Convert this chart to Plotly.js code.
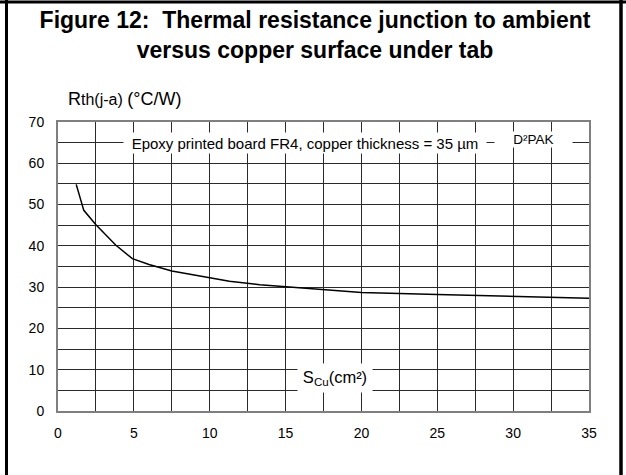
<!DOCTYPE html>
<html>
<head>
<meta charset="utf-8">
<script src="https://cdn.plot.ly/plotly-3.0.1.min.js"></script>
<style>
  html, body { margin: 0; padding: 0; background: #fff; }
  #chart { width: 626px; height: 475px; }
</style>
</head>
<body>
<div id="chart"></div>
<script>
// ---- data ----
const copperArea = [1.2, 1.7, 2.5, 3.8, 4.9, 6.0, 7.5, 9.8, 11.3, 13.3, 15.0, 17.5, 20.0, 25.0, 30.0, 35.0];
const rthJA      = [54.9, 48.6, 45.1, 40.2, 36.9, 35.5, 33.9, 32.3, 31.4, 30.6, 30.1, 29.3, 28.7, 28.2, 27.7, 27.3];
const xTicks = [0, 5, 10, 15, 20, 25, 30, 35];
const yTicks = [0, 10, 20, 30, 40, 50, 60, 70];

const titleText = "Figure 12:&nbsp; Thermal resistance junction to ambient<br>versus copper surface under tab";
const yTitleText = "<span style='font-size:18px'>R</span>th(j-a) <span style='font-size:18px'>(°C/W)</span>";
const boardNote = "Epoxy printed board FR4, copper thickness = 35 µm";
const packageNote = "D²PAK";
const xTitleText = "S<sub>Cu</sub>(cm²)";

// ---- layout helpers (pixel -> paper) ----
const M = {l: 58, r: 37, t: 122, b: 64};
const W = 626, H = 475;
const PW = W - M.l - M.r, PH = H - M.t - M.b;
const px = x => (x - M.l) / PW;
const py = y => (H - M.b - y) / PH;

const FONT = "Liberation Sans, Arial, sans-serif";

const trace = {
  x: copperArea,
  y: rthJA,
  type: "scatter",
  mode: "lines",
  line: {color: "#000", width: 1.5},
  hoverinfo: "skip",
  showlegend: false
};

const gridCol = "#2a2a2a";
const layout = {
  width: W, height: H,
  margin: M,
  paper_bgcolor: "#fff",
  plot_bgcolor: "#fff",
  font: {family: FONT, color: "#000", size: 14},
  title: {
    text: titleText,
    font: {family: FONT, size: 23, color: "#000", weight: "bold"},
    xref: "container", yref: "container",
    x: 315 / W, xanchor: "center",
    y: 1 - 28 / H, yanchor: "middle"
  },
  xaxis: {
    range: [0, 35],
    tickvals: xTicks,
    ticks: "",
    ticklabelstandoff: 8,
    tickfont: {family: FONT, size: 14, color: "#000"},
    showgrid: true, gridcolor: gridCol, gridwidth: 1,
    minor: {dtick: 2.5, showgrid: true, gridcolor: gridCol, gridwidth: 1},
    zeroline: false,
    showline: true, mirror: true, linecolor: "#7f7f7f", linewidth: 2,
    fixedrange: true
  },
  yaxis: {
    range: [0, 70],
    tickvals: yTicks,
    ticks: "",
    ticklabelstandoff: 9,
    tickfont: {family: FONT, size: 14, color: "#000"},
    showgrid: true, gridcolor: gridCol, gridwidth: 1,
    minor: {dtick: 5, showgrid: true, gridcolor: gridCol, gridwidth: 1},
    zeroline: false,
    showline: true, mirror: true, linecolor: "#7f7f7f", linewidth: 2,
    fixedrange: true
  },
  annotations: [
    {
      text: boardNote, xref: "x", yref: "y", x: 16.3, y: 64.8,
      xanchor: "center", yanchor: "middle", showarrow: false,
      bgcolor: "#fff", width: 362, height: 20, borderpad: 0,
      font: {family: FONT, size: 15, color: "#000"}
    },
    {
      text: packageNote, xref: "x", yref: "y", x: 31.36, y: 65.7,
      xanchor: "center", yanchor: "middle", showarrow: false,
      bgcolor: "#fff", width: 77, height: 15, borderpad: 0,
      font: {family: FONT, size: 13.5, color: "#000"}
    },
    {
      text: xTitleText, xref: "x", yref: "y", x: 18.26, y: 8.0,
      xanchor: "center", yanchor: "middle", showarrow: false,
      bgcolor: "#fff", width: 74, height: 28, borderpad: 0,
      font: {family: FONT, size: 16.5, color: "#000"}
    },
    {
      text: yTitleText, xref: "paper", yref: "paper",
      x: px(66), y: py(99), xanchor: "left", yanchor: "middle",
      showarrow: false,
      font: {family: FONT, size: 16, color: "#000"}
    }
  ],
  shapes: [
    {type: "line", xref: "paper", yref: "paper", x0: px(0), x1: px(626), y0: py(2), y1: py(2),
     line: {color: "#000", width: 3}},
    {type: "line", xref: "paper", yref: "paper", x0: px(6.5), x1: px(6.5), y0: py(0), y1: py(475),
     line: {color: "#000", width: 3}},
    {type: "line", xref: "paper", yref: "paper", x0: px(621), x1: px(621), y0: py(0), y1: py(475),
     line: {color: "#000", width: 3.5}}
  ]
};

Plotly.newPlot("chart", [trace], layout, {displayModeBar: false, staticPlot: true});
</script>
</body>
</html>
